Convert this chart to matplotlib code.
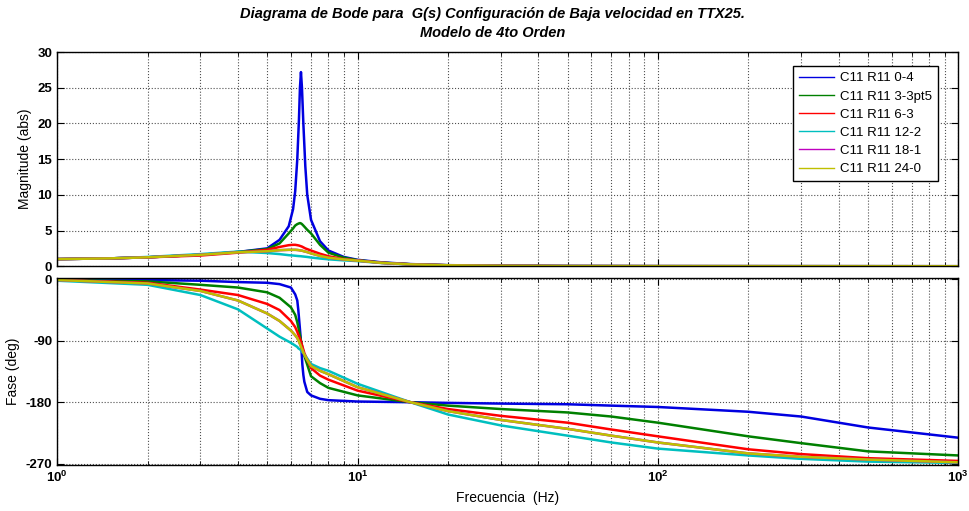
import matplotlib.pyplot as plt
from matplotlib.ticker import LogLocator, NullFormatter, FixedLocator

plt.rcParams['font.family'] = ['Liberation Sans', 'DejaVu Sans']
plt.rcParams['axes.unicode_minus'] = False

# values (frequency in Hz)
freq_mag = [1, 1.5, 2, 3, 4, 5, 5.5, 5.9, 6.1, 6.2, 6.3, 6.38, 6.43, 6.48, 6.53,
            6.6, 6.7, 6.8, 7, 7.5, 8, 9, 10, 12, 15, 20, 30, 50, 100, 1000]
mag_0_4 = [1.0, 1.1, 1.25, 1.6, 2.0, 2.5, 3.7, 5.6, 8.0, 10.5, 15, 20.5, 25, 27.2, 25,
           20, 14, 10, 6.5, 3.5, 2.2, 1.3, 0.9, 0.55, 0.3, 0.15, 0.07, 0.03, 0.01, 0.0]
mag_3_3pt5 = [1.0, 1.1, 1.25, 1.6, 2.0, 2.4, 3.2, 4.6, 5.3, 5.7, 5.9, 6.0, 6.05, 6.0, 5.9,
              5.7, 5.4, 5.1, 4.6, 3.0, 1.9, 1.2, 0.85, 0.5, 0.28, 0.14, 0.06, 0.02, 0.01, 0.0]
mag_6_3 = [1.0, 1.1, 1.25, 1.5, 1.9, 2.3, 2.7, 2.95, 3.0, 3.0, 2.95, 2.9, 2.85, 2.8, 2.75,
           2.65, 2.5, 2.4, 2.2, 1.75, 1.4, 1.0, 0.8, 0.48, 0.27, 0.13, 0.06, 0.02, 0.01, 0.0]
mag_12_2 = [1.0, 1.1, 1.3, 1.7, 2.05, 1.85, 1.7, 1.55, 1.5, 1.47, 1.44, 1.42, 1.41, 1.4, 1.38,
            1.36, 1.33, 1.3, 1.22, 1.08, 0.97, 0.82, 0.72, 0.45, 0.25, 0.12, 0.05, 0.02, 0.01, 0.0]
mag_18_1 = [1.0, 1.1, 1.25, 1.6, 1.95, 2.1, 2.25, 2.3, 2.3, 2.3, 2.28, 2.25, 2.22, 2.2, 2.18,
            2.12, 2.05, 1.98, 1.8, 1.45, 1.2, 0.95, 0.78, 0.47, 0.26, 0.13, 0.06, 0.02, 0.01, 0.0]
mag_24_0 = [1.0, 1.1, 1.25, 1.6, 1.95, 2.1, 2.25, 2.3, 2.3, 2.3, 2.28, 2.25, 2.22, 2.2, 2.18,
            2.12, 2.05, 1.98, 1.8, 1.45, 1.2, 0.95, 0.78, 0.47, 0.26, 0.13, 0.06, 0.02, 0.01, 0.0]

freq_ph = [1, 2, 3, 4, 5, 5.5, 6, 6.2, 6.3, 6.35, 6.45, 6.5, 6.55, 6.6, 6.65,
           6.8, 7, 7.5, 8, 10, 15, 20, 30, 50, 70, 100, 200, 300, 500, 1000]
ph_0_4 = [-1, -1, -2, -4, -5, -7, -12, -22, -31, -45, -80, -100, -125, -140, -150,
          -165, -170, -175, -177, -179, -180, -181, -182, -183, -185, -187, -194, -201, -217, -232]
ph_3_3pt5 = [-1, -3, -8, -12, -19, -27, -41, -52, -63, -70, -85, -93, -100, -106, -112,
             -125, -142, -152, -159, -170, -180, -185, -190, -195, -201, -210, -230, -240, -252, -258]
ph_6_3 = [-1, -5, -15, -23, -36, -45, -61, -70, -77, -81, -88, -93, -98, -103, -108,
          -118, -130, -141, -147, -163, -180, -190, -200, -210, -220, -230, -249, -256, -262, -266]
ph_12_2 = [-2, -8, -23, -44, -72, -84, -93, -97, -99, -101, -103, -105, -107, -108, -110,
           -116, -124, -130, -134, -153, -180, -198, -214, -229, -239, -248, -258, -263, -267, -269]
ph_18_1 = [-1, -6, -17, -31, -50, -61, -75, -82, -86, -89, -96, -100, -103, -107, -110,
           -118, -127, -134, -139, -158, -180, -193, -206, -219, -229, -239, -255, -260, -264, -268]
ph_24_0 = [-1, -6, -17, -31, -50, -61, -75, -82, -86, -89, -96, -100, -103, -107, -110,
           -118, -127, -134, -139, -158, -180, -193, -206, -219, -229, -239, -255, -260, -264, -268]

labels = ['C11 R11 0-4', 'C11 R11 3-3pt5', 'C11 R11 6-3',
          'C11 R11 12-2', 'C11 R11 18-1', 'C11 R11 24-0']
colors = ['#0000e0', '#008000', '#ff0000', '#00bfbf', '#bf00bf', '#bfbf00']
mags = [mag_0_4, mag_3_3pt5, mag_6_3, mag_12_2, mag_18_1, mag_24_0]
phases = [ph_0_4, ph_3_3pt5, ph_6_3, ph_12_2, ph_18_1, ph_24_0]

fig = plt.figure(figsize=(9.69, 5.11), dpi=100)
ax1 = fig.add_axes([0.059, 0.479, 0.930, 0.419])
ax2 = fig.add_axes([0.059, 0.090, 0.930, 0.366])

for m, p, c, lab in zip(mags, phases, colors, labels):
    ax1.plot(freq_mag, m, color=c, lw=1.8, label=lab)
    ax2.plot(freq_ph, p, color=c, lw=1.8)

for ax in (ax1, ax2):
    ax.set_xscale('log')
    ax.set_xlim(1, 1000)
    ax.xaxis.set_major_locator(LogLocator(base=10, numticks=10))
    ax.xaxis.set_minor_locator(LogLocator(base=10, subs=range(2, 10), numticks=20))
    ax.xaxis.set_minor_formatter(NullFormatter())
    ax.grid(True, which='major', linestyle=':', color='#505050', lw=0.8)
    ax.grid(True, which='minor', axis='x', linestyle=':', color='#505050', lw=0.8)
    ax.tick_params(which='both', direction='in', top=True, right=True, labelsize=9.5)
    ax.tick_params(which='major', length=5)
    ax.tick_params(which='minor', length=3)
    for s in ax.spines.values():
        s.set_linewidth(1.0)

ax1.set_ylim(0, 30)
ax1.yaxis.set_major_locator(FixedLocator([0, 5, 10, 15, 20, 25, 30]))
ax1.tick_params(axis='x', which='both', labelbottom=False)
ax1.set_ylabel('Magnitude (abs)', fontsize=10)

ax2.set_ylim(-272, 2)
ax2.yaxis.set_major_locator(FixedLocator([0, -90, -180, -270]))
ax2.set_ylabel('Fase (deg)', fontsize=10)
ax2.set_xlabel('Frecuencia  (Hz)', fontsize=10)

for ax in (ax1, ax2):
    for t in ax.get_yticklabels() + ax.get_xticklabels():
        t.set_fontweight('bold')

leg = ax1.legend(loc='upper right', fontsize=9.5, handlelength=2.6, fancybox=False,
                 framealpha=1, edgecolor='black', borderpad=0.45, labelspacing=0.45,
                 handletextpad=0.5, bbox_to_anchor=(0.985, 0.965))
leg.get_frame().set_linewidth(1.0)
for line in leg.get_lines():
    line.set_linewidth(1.0)

fig.text(0.508, 0.972, 'Diagrama de Bode para  G(s) Configuración de Baja velocidad en TTX25.',
         ha='center', va='center', fontsize=10.5, fontweight='bold', style='italic')
fig.text(0.508, 0.935, 'Modelo de 4to Orden',
         ha='center', va='center', fontsize=10.5, fontweight='bold', style='italic')

fig.savefig('out.png', dpi=100)
